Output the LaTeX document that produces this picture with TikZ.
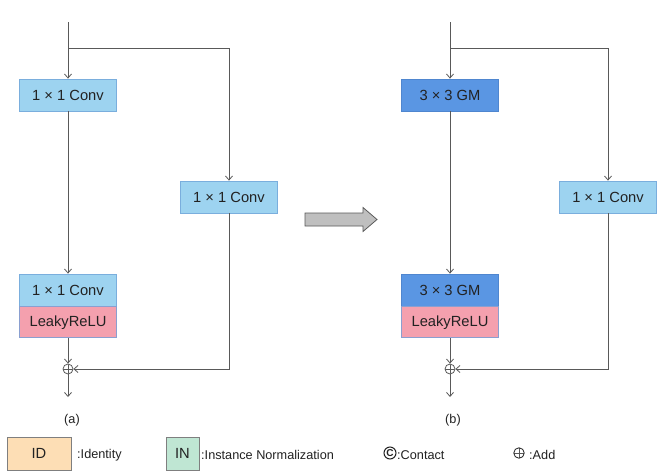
\documentclass[tikz,border=0pt]{standalone}
\usepackage{fontspec}
\setmainfont{Liberation Sans}
\usetikzlibrary{arrows.meta}
\definecolor{lblue}{HTML}{9DD3F0}
\definecolor{lbluebd}{HTML}{7AAEDD}
\definecolor{gmblue}{HTML}{5A96E3}
\definecolor{gmbluebd}{HTML}{4F86CF}
\definecolor{pinkfill}{HTML}{F4A0AE}
\definecolor{pinkbd}{HTML}{8A9FD0}
\definecolor{peach}{HTML}{FDDEB5}
\definecolor{mint}{HTML}{BFE6D3}
\definecolor{legbd}{HTML}{7F7F7F}
\definecolor{linec}{HTML}{595959}
\definecolor{txt}{HTML}{222222}
\tikzset{
  blk/.style={draw, line width=0.8pt, minimum width=97pt, minimum height=32pt, inner sep=0pt, text=txt, font=\fontsize{14.7}{16}\selectfont},
  convbox/.style={blk, fill=lblue, draw=lbluebd},
  gmbox/.style={blk, fill=gmblue, draw=gmbluebd},
  relubox/.style={blk, fill=pinkfill, draw=pinkbd, minimum height=31pt},
  conn/.style={draw=linec, line width=0.8pt},
  arr/.style={conn, -{Straight Barb[length=4pt,width=7pt]}},
  addc/.style={circle, draw=linec, line width=0.8pt, minimum size=10pt, inner sep=0pt, path picture={\draw[linec, line width=0.7pt] (path picture bounding box.west) -- (path picture bounding box.east) (path picture bounding box.north) -- (path picture bounding box.south);}},
  lbl/.style={text=txt, font=\fontsize{12.7}{14}\selectfont, inner sep=0pt},
  legbox/.style={draw=legbd, line width=0.8pt, inner sep=0pt, text=txt, font=\fontsize{14.7}{16}\selectfont},
}
\begin{document}
\begin{tikzpicture}[x=1pt,y=-1pt]
\useasboundingbox[fill=white] (0,0) rectangle (672,474);
% ---------- (a) ----------
\coordinate (atop) at (68,22);
\coordinate (abr) at (68,48);
\coordinate (abrR) at (229,48);
\node[convbox] (aconv1) at (68,95) {1 × 1 Conv};
\node[convbox] (aconvR) at (229,197) {1 × 1 Conv};
\node[convbox] (aconv2) at (68,290) {1 × 1 Conv};
\node[relubox, anchor=north] (arelu) at (aconv2.south) {LeakyReLU};
\node[addc] (aadd) at (68,369) {};
\coordinate (aout) at (68,397);
\coordinate (acorner) at (229,369);
\draw[arr] (atop) -- (aconv1.north);
\draw[arr] (abr) -- (abrR) -- (aconvR.north);
\draw[arr] (aconv1.south) -- (aconv2.north);
\draw[arr] (arelu.south) -- (aadd.north);
\draw[arr] (aconvR.south) -- (acorner) -- (aadd.east);
\draw[arr] (aadd.south) -- (aout);
\node[lbl] (alab) at (72,420) {(a)};
% ---------- arrow ----------
\draw[draw=linec, fill=gray!50, line width=0.8pt, line join=miter]
  (305,213) -- (363,213) -- (363,207.5) -- (377,219.5) -- (363,231.5) -- (363,226) -- (305,226) -- cycle;
% ---------- (b) ----------
\coordinate (btop) at (450,22);
\coordinate (bbr) at (450,48);
\coordinate (bbrR) at (608,48);
\node[gmbox] (bgm1) at (450,95) {3 × 3 GM};
\node[convbox] (bconvR) at (608,197) {1 × 1 Conv};
\node[gmbox] (bgm2) at (450,290) {3 × 3 GM};
\node[relubox, anchor=north] (brelu) at (bgm2.south) {LeakyReLU};
\node[addc] (badd) at (450,369) {};
\coordinate (bout) at (450,397);
\coordinate (bcorner) at (608,369);
\draw[arr] (btop) -- (bgm1.north);
\draw[arr] (bbr) -- (bbrR) -- (bconvR.north);
\draw[arr] (bgm1.south) -- (bgm2.north);
\draw[arr] (brelu.south) -- (badd.north);
\draw[arr] (bconvR.south) -- (bcorner) -- (badd.east);
\draw[arr] (badd.south) -- (bout);
\node[lbl] (blab) at (453,420) {(b)};
% ---------- legend ----------
\node[legbox, fill=peach, minimum width=64pt, minimum height=33pt] (lid) at (39,453.5) {ID};
\node[lbl, anchor=west] (lidt) at (77,455) {:Identity};
\node[legbox, fill=mint, minimum width=33pt, minimum height=33pt] (lin) at (182.5,453.5) {IN};
\node[lbl, anchor=west] (lint) at (201,455) {:Instance Normalization};
\node[circle, draw=txt, line width=1pt, minimum size=12pt, inner sep=0pt, text=txt, font=\fontsize{10}{10}\selectfont\bfseries] (lcc) at (390,453) {C};
\node[lbl, anchor=west] (lct) at (397,455) {:Contact};
\node[addc, draw=txt, minimum size=10.5pt] (lad) at (519,453) {};
\node[lbl, anchor=west] (ladt) at (529,455) {:Add};
\end{tikzpicture}
\end{document}
